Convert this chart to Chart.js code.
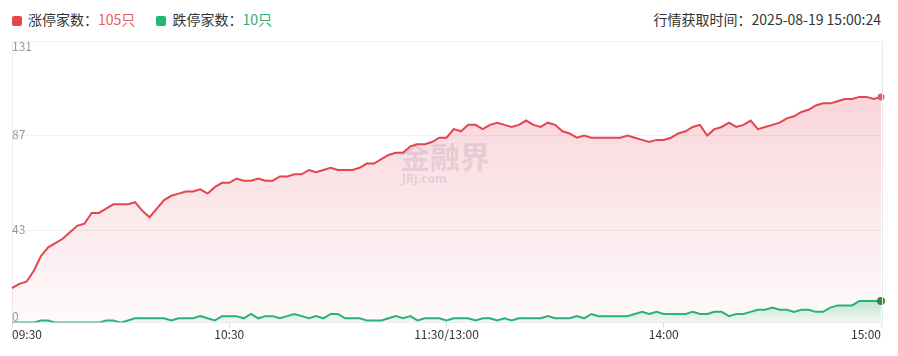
<!DOCTYPE html>
<html>
<head>
<meta charset="utf-8">
<script src="https://cdn.jsdelivr.net/npm/chart.js@4.4.1/dist/chart.umd.min.js"></script>
<style>
  html, body { margin: 0; padding: 0; background: #fff; }
  body { width: 898px; height: 356px; position: relative; overflow: hidden;
         font-family: "Noto Sans CJK SC", "Noto Sans", sans-serif; }
  .legend { position: absolute; top: 8px; left: 12px; font-size: 14px; color: #333; line-height: 22px; }
  .legend span.item { margin-right: 18px; }
  .legend i { display: inline-block; width: 10px; height: 10px; border-radius: 2px; margin-right: 6px; vertical-align: -1px; }
  .stamp { position: absolute; top: 8px; right: 17px; font-size: 14px; color: #333; line-height: 22px; }
  canvas { position: absolute; left: 0; top: 0; }
</style>
</head>
<body>
<div class="legend">
  <span class="item"><i style="background:#e84549"></i>涨停家数：<span style="color:#e26262">105只</span></span>
  <span class="item"><i style="background:#22b573"></i>跌停家数：<span style="color:#2aae78">10只</span></span>
</div>
<div class="stamp">行情获取时间：2025-08-19 15:00:24</div>
<canvas id="limitChart" width="898" height="356"></canvas>
<script>
// 涨停 / 跌停 家数, sampled every 2 minutes 09:30 - 15:00
const upCount = [16,18,19,24,31,35,37,39,42,45, 46,51,51,53,55,55,55,56,52,49,
  53,57,59,60,61,61,62,60,63,65, 65,67,66,66,67,66,66,68,68,69,
  69,71,70,71,72,71,71,71,72,74, 74,76,78,79,79,82,83,83,84,86,
  86,90,89,92,92,90,92,93,92,91, 92,94,92,91,93,92,89,88,86,87,
  86,86,86,86,86,87,86,85,84,85, 85,86,88,89,91,92,87,90,91,93,
  91,92,94,90,91,92,93,95,96,98, 99,101,102,102,103,104,104,105,105,104,
  105];
const downCount = [0,0,0,0,1,1,0,0,0,0, 0,0,0,1,1,0,1,2,2,2,
  2,2,1,2,2,2,3,2,1,3, 3,3,2,4,2,3,3,2,3,4,
  3,2,3,2,4,4,2,2,2,1, 1,1,2,3,2,3,1,2,2,2,
  1,2,2,2,1,2,2,1,2,1, 2,2,2,2,3,2,2,2,3,2,
  4,3,3,3,3,3,4,5,4,5, 4,4,4,4,5,4,4,5,5,3,
  4,4,5,6,6,7,6,6,5,6, 6,5,5,7,8,8,8,10,10,10,
  10];
const xTickLabels = ['09:30', '10:30', '11:30/13:00', '14:00', '15:00'];
const yTickValues = [0, 43, 87, 131];

// time labels: 2 minute steps, lunch break merged into one slot
function hm(m) {
  const h = Math.floor(m / 60), mm = m % 60;
  return String(h).padStart(2, '0') + ':' + String(mm).padStart(2, '0');
}
const timeLabels = [];
for (let m = 570; m < 690; m += 2) timeLabels.push(hm(m));
timeLabels.push('11:30/13:00');
for (let m = 782; m <= 900; m += 2) timeLabels.push(hm(m));

const last = upCount.length - 1;

function vGradient(ctx, area, c0, c1) {
  const g = ctx.createLinearGradient(0, area.top, 0, area.bottom);
  g.addColorStop(0, c0);
  g.addColorStop(1, c1);
  return g;
}

const framePlugin = {
  id: 'frame',
  beforeDatasetsDraw(chart) {
    const { ctx, chartArea: a } = chart;
    ctx.save();
    ctx.fillStyle = 'rgba(140,140,175,0.22)';
    ctx.font = 'bold 30px "Noto Sans CJK SC"';
    ctx.textBaseline = 'alphabetic';
    ctx.fillText('金融界', 400, 168);
    ctx.font = 'bold 12px "Noto Sans"';
    ctx.fillText('JRJ.com', 402, 183);
    ctx.restore();
  },
  afterDraw(chart) {
    const { ctx, chartArea: a, scales } = chart;
    ctx.save();
    ctx.strokeStyle = '#e8e8e8';
    ctx.lineWidth = 1;
    ctx.beginPath();
    ctx.moveTo(Math.round(a.right) + 1.5, a.top);
    ctx.lineTo(Math.round(a.right) + 1.5, a.bottom);
    ctx.stroke();
    // y labels inside the plot
    ctx.fillStyle = '#999';
    ctx.font = '12px "Noto Sans CJK SC"';
    ctx.textBaseline = 'middle';
    ctx.textAlign = 'left';
    yTickValues.forEach((v, i) => {
      let y = scales.y.getPixelForValue(v);
      if (i === yTickValues.length - 1) y += 5;
      else if (i === 0) y -= 6;
      else y -= 1;
      ctx.fillText(String(v), a.left, y);
    });
    ctx.restore();
  }
};

new Chart(document.getElementById('limitChart'), {
  type: 'line',
  data: {
    labels: timeLabels,
    datasets: [{
      label: '涨停家数',
      data: upCount,
      borderColor: '#e3464e',
      borderWidth: 2,
      tension: 0,
      fill: 'origin',
      backgroundColor: (c) => {
        const a = c.chart.chartArea;
        if (!a) return 'rgba(230,80,100,0.15)';
        return vGradient(c.chart.ctx, a, 'rgba(228,90,110,0.30)', 'rgba(228,90,110,0.03)');
      },
      pointRadius: (c) => c.dataIndex === last ? 3.5 : 0,
      pointBackgroundColor: '#e85a62',
      pointBorderWidth: 0,
      order: 2
    }, {
      label: '跌停家数',
      data: downCount,
      borderColor: '#27b37b',
      borderWidth: 2,
      tension: 0,
      fill: 'origin',
      backgroundColor: (c) => {
        const a = c.chart.chartArea;
        if (!a) return 'rgba(40,180,120,0.15)';
        const g = c.chart.ctx.createLinearGradient(0, a.bottom - 25, 0, a.bottom);
        g.addColorStop(0, 'rgba(60,190,130,0.35)');
        g.addColorStop(1, 'rgba(60,190,130,0.05)');
        return g;
      },
      pointRadius: (c) => c.dataIndex === last ? 4 : 0,
      pointBackgroundColor: '#2e8b45',
      pointBorderWidth: 0,
      order: 1
    }]
  },
  options: {
    responsive: false,
    animation: false,
    layout: { padding: { left: 12, right: 17, top: 41, bottom: 14 } },
    plugins: { legend: { display: false }, tooltip: { enabled: false } },
    scales: {
      x: {
        grid: {
          drawOnChartArea: false,
          drawTicks: true,
          tickLength: 5,
          tickColor: (c) => xTickLabels.includes(timeLabels[c.index]) ? '#ddd' : 'rgba(0,0,0,0)'
        },
        border: { display: true, color: '#eee' },
        ticks: {
          autoSkip: false,
          maxRotation: 0,
          align: 'inner',
          padding: 0,
          color: '#333',
          font: { size: 12, family: '"Noto Sans CJK SC"' },
          callback: (v, i) => xTickLabels.includes(timeLabels[i]) ? timeLabels[i] : ''
        }
      },
      y: {
        min: 0,
        max: 131,
        afterBuildTicks: (s) => { s.ticks = yTickValues.map(v => ({ value: v })); },
        grid: { color: '#f0f0f0', drawTicks: false },
        border: { display: true, color: '#eee' },
        ticks: { display: false }
      }
    }
  },
  plugins: [framePlugin]
});
</script>
</body>
</html>
